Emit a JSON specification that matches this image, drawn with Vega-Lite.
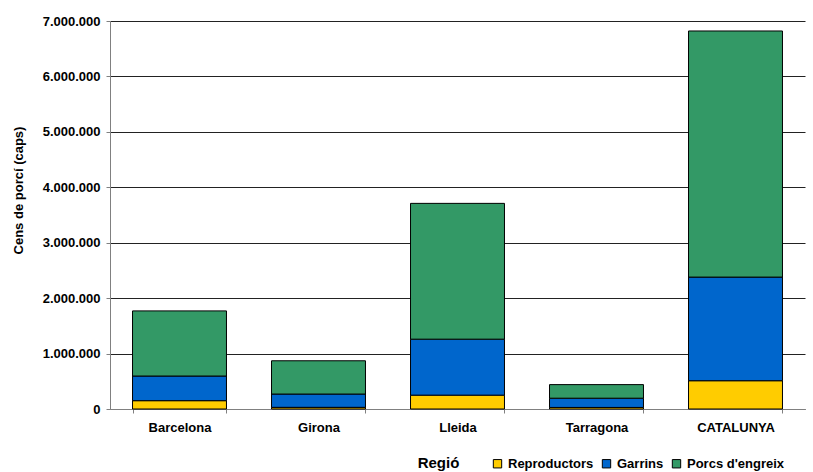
{
  "$schema": "https://vega.github.io/schema/vega-lite/v6.json",
  "width": 695,
  "height": 388,
  "autosize": {"type": "none"},
  "padding": {"left": 110, "top": 21, "right": 8, "bottom": 63},
  "background": "white",
  "data": {
    "values": [
      {"regio": "Barcelona", "tipus": "Reproductors", "ordre": 1, "caps": 150000},
      {"regio": "Barcelona", "tipus": "Garrins", "ordre": 2, "caps": 445000},
      {"regio": "Barcelona", "tipus": "Porcs d'engreix", "ordre": 3, "caps": 1175000},
      {"regio": "Girona", "tipus": "Reproductors", "ordre": 1, "caps": 30000},
      {"regio": "Girona", "tipus": "Garrins", "ordre": 2, "caps": 240000},
      {"regio": "Girona", "tipus": "Porcs d'engreix", "ordre": 3, "caps": 600000},
      {"regio": "Lleida", "tipus": "Reproductors", "ordre": 1, "caps": 250000},
      {"regio": "Lleida", "tipus": "Garrins", "ordre": 2, "caps": 1010000},
      {"regio": "Lleida", "tipus": "Porcs d'engreix", "ordre": 3, "caps": 2450000},
      {"regio": "Tarragona", "tipus": "Reproductors", "ordre": 1, "caps": 28000},
      {"regio": "Tarragona", "tipus": "Garrins", "ordre": 2, "caps": 167000},
      {"regio": "Tarragona", "tipus": "Porcs d'engreix", "ordre": 3, "caps": 245000},
      {"regio": "CATALUNYA", "tipus": "Reproductors", "ordre": 1, "caps": 510000},
      {"regio": "CATALUNYA", "tipus": "Garrins", "ordre": 2, "caps": 1870000},
      {"regio": "CATALUNYA", "tipus": "Porcs d'engreix", "ordre": 3, "caps": 4440000}
    ]
  },
  "mark": {"type": "bar", "stroke": "#000000", "strokeWidth": 1},
  "encoding": {
    "x": {
      "field": "regio",
      "type": "nominal",
      "sort": ["Barcelona", "Girona", "Lleida", "Tarragona", "CATALUNYA"],
      "scale": {"paddingInner": 0.324, "paddingOuter": 0.162},
      "axis": {
        "title": "Regió",
        "titleFont": "Liberation Sans",
        "titleFontSize": 15,
        "titleFontWeight": "bold",
        "titleColor": "#000000",
        "titleX": 328,
        "titleY": 46,
        "titleAnchor": "middle",
        "labelFont": "Liberation Sans",
        "labelFontSize": 13,
        "labelFontWeight": "bold",
        "labelColor": "#000000",
        "labelAngle": 0,
        "labelPadding": 8,
        "tickBand": "extent",
        "tickSize": 4,
        "tickColor": "#808080",
        "domainColor": "#808080",
        "grid": false
      }
    },
    "y": {
      "field": "caps",
      "type": "quantitative",
      "aggregate": "sum",
      "stack": "zero",
      "scale": {"domain": [0, 7000000], "nice": false},
      "axis": {
        "title": "Cens de porcí (caps)",
        "titleFont": "Liberation Sans",
        "titleFontSize": 13,
        "titleFontWeight": "bold",
        "titleColor": "#000000",
        "titleX": -92,
        "titleY": 169,
        "titleAngle": -90,
        "titleAnchor": "middle",
        "titleBaseline": "middle",
        "values": [0, 1000000, 2000000, 3000000, 4000000, 5000000, 6000000, 7000000],
        "labelExpr": "replace(format(datum.value, ','), regexp(',', 'g'), '.')",
        "labelFont": "Liberation Sans",
        "labelFontSize": 13,
        "labelFontWeight": "bold",
        "labelColor": "#000000",
        "labelPadding": 6,
        "tickSize": 4,
        "tickColor": "#808080",
        "domainColor": "#808080",
        "grid": true,
        "gridColor": "#222222",
        "gridWidth": 1
      }
    },
    "color": {
      "field": "tipus",
      "type": "nominal",
      "sort": ["Reproductors", "Garrins", "Porcs d'engreix"],
      "scale": {
        "domain": ["Reproductors", "Garrins", "Porcs d'engreix"],
        "range": ["#FFCC00", "#0066CC", "#339966"]
      },
      "legend": {
        "title": null,
        "orient": "none",
        "direction": "horizontal",
        "legendX": 381,
        "legendY": 436,
        "symbolType": "square",
        "symbolSize": 70,
        "symbolStrokeColor": "#000000",
        "symbolStrokeWidth": 1,
        "labelFont": "Liberation Sans",
        "labelFontSize": 13,
        "labelFontWeight": "bold",
        "labelColor": "#000000",
        "labelOffset": 4,
        "columnPadding": 6
      }
    },
    "order": {"field": "ordre", "type": "quantitative"}
  },
  "config": {"view": {"stroke": null}, "axis": {"domainWidth": 1}}
}
